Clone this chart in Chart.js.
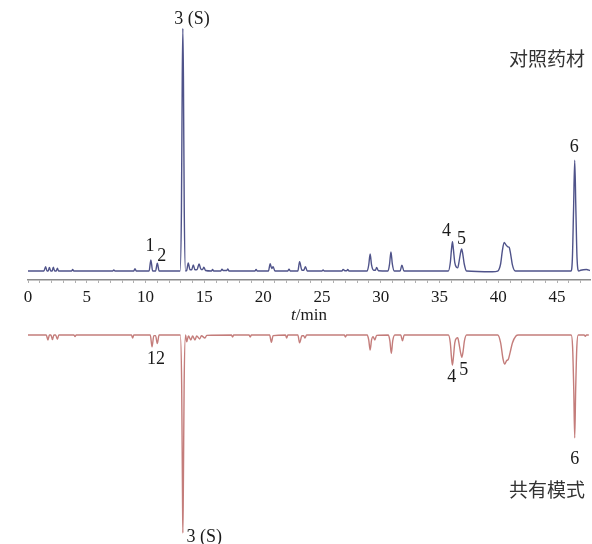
<!DOCTYPE html>
<html lang="zh">
<head>
<meta charset="UTF-8">
<title>HPLC fingerprint</title>
<script src="https://cdn.jsdelivr.net/npm/chart.js"></script>
<style>
    body { margin: 0; background: #fff; }
    #wrap { position: relative; width: 592px; height: 544px; }
    canvas { position: absolute; left: 0; }
    #topChart { top: 0; }
    #botChart { top: 325px; }
    .tag {
        position: absolute;
        left: 509px;
        font-family: 'Noto Sans CJK SC', sans-serif;
        font-size: 19px;
        line-height: 19px;
        color: #333;
    }
</style>
</head>
<body>
<div id="wrap">
    <canvas id="topChart" width="592" height="325"></canvas>
    <canvas id="botChart" width="592" height="219"></canvas>
    <div class="tag" style="top:48px">对照药材</div>
    <div class="tag" style="top:479px">共有模式</div>
</div>

<script>
// x ticks (min)
const xTickLabels = [0, 5, 10, 15, 20, 25, 30, 35, 40, 45];

// reference herb trace (top)
const topT = [0, 1.35, 1.5, 1.62, 1.72, 1.82, 1.93, 2.05, 2.15, 2.27, 2.4, 2.5, 2.6,
    3.7, 3.8, 3.9, 7.2, 7.3, 7.4, 9.0, 9.1, 9.2,
    10.3, 10.45, 10.6, 10.85, 11.0, 11.15,
    12.93, 13.05, 13.12, 13.17, 13.22, 13.29, 13.4,
    13.5, 13.63, 13.78, 13.92, 14.06, 14.2, 14.38, 14.55, 14.72, 14.85, 14.95, 15.1,
    15.6, 15.7, 15.8, 16.4, 16.5, 16.6, 16.9, 17.0, 17.1, 19.3, 19.4, 19.5,
    20.45, 20.6, 20.73, 20.85, 21.0, 22.1, 22.2, 22.3,
    22.95, 23.1, 23.3, 23.45, 23.6, 23.75, 25.0, 25.1, 25.2,
    26.7, 26.8, 26.95, 27.1, 27.2, 27.3,
    28.85, 28.98, 29.1, 29.22, 29.4, 29.55, 29.65, 29.8,
    30.62, 30.75, 30.87, 30.99, 31.15, 31.65, 31.8, 31.98,
    35.75, 35.92, 36.02, 36.1, 36.18, 36.3, 36.45, 36.55, 36.65, 36.77, 36.88, 36.98, 37.1, 37.3,
    39.5, 39.95, 40.2, 40.35, 40.5, 40.65, 40.8, 40.92, 41.05, 41.2, 41.45,
    46.18, 46.3, 46.4, 46.5, 46.6, 46.7, 46.85, 47.0, 47.5, 47.8];
const topV = [0, 0, 1.8, 0, 0, 1.5, 0, 0, 1.6, 0, 0, 1.2, 0,
    0, 0.6, 0, 0, 0.4, 0, 0, 1.0, 0,
    0, 4.6, 0, 0, 3.2, 0,
    0, 25, 80, 100, 80, 25, 0,
    0.3, 3.3, 0.5, 0.5, 2.5, 0.5, 0.6, 2.9, 0.6, 0.6, 1.6, 0.2,
    0, 0.6, 0, 0, 0.8, 0.2, 0.2, 0.9, 0, 0, 0.7, 0,
    0, 3.0, 1.0, 1.8, 0, 0, 0.8, 0,
    0, 3.8, 0.3, 0.3, 1.8, 0, 0, 0.4, 0,
    0, 0.7, 0.1, 0.1, 0.7, 0,
    0, 2.5, 7.0, 2.5, 0.3, 0.3, 1.5, 0.1,
    0, 2.8, 7.9, 2.8, 0, 0, 2.4, 0,
    0, 3.5, 9.0, 12.1, 9.0, 3.5, 1.5, 1.3, 3.5, 7.0, 9.1, 7.0, 3.0, 0,
    -0.3, 0, 3.0, 8.5, 11.8, 10.8, 10.0, 9.8, 7.0, 2.5, 0,
    0, 5, 25, 45.7, 25, 5, 0, 0.3, 0.6, 0.2];

// common pattern trace (bottom, drawn downward)
const botT = [0, 1.55, 1.7, 1.82, 1.95, 2.08, 2.2, 2.35, 2.5, 2.62,
    3.9, 4.0, 4.1, 8.8, 8.9, 9.0,
    10.4, 10.55, 10.7, 10.85, 11.0, 11.15,
    12.95, 13.07, 13.14, 13.17, 13.21, 13.28, 13.4,
    13.5, 13.65, 13.85, 14.0, 14.2, 14.35, 14.6, 14.75, 15.05, 15.2,
    17.3, 17.4, 17.5, 18.8, 18.9, 19.0,
    20.55, 20.7, 20.85, 21.9, 22.0, 22.1,
    22.95, 23.1, 23.3, 23.45, 23.55, 23.7, 26.9, 27.0, 27.1,
    28.85, 28.98, 29.1, 29.22, 29.35, 29.5, 29.65,
    30.65, 30.78, 30.9, 31.02, 31.2, 31.7, 31.85, 32.0,
    35.75, 35.92, 36.02, 36.1, 36.18, 36.3, 36.45, 36.55, 36.65, 36.78, 36.9, 37.0, 37.12, 37.3,
    39.95, 40.2, 40.4, 40.55, 40.7, 40.85, 41.0, 41.2, 41.5, 41.7,
    46.2, 46.32, 46.42, 46.5, 46.58, 46.68, 46.8, 47.3, 47.4, 47.5, 47.7];
const botV = [0, 0, 2.5, 0, 0, 2.3, 0, 0, 2.2, 0,
    0, 0.8, 0, 0, 1.5, 0,
    0, 6.0, 0.3, 0.3, 4.3, 0,
    0, 25, 80, 100, 80, 25, 0,
    3.4, 0.5, 2.5, 0.5, 2.5, 0.5, 2.0, 0.4, 1.5, 0.2,
    0, 1.0, 0, 0, 1.0, 0,
    0, 3.7, 0.3, 0, 1.5, 0,
    0, 4.0, 0.4, 0.4, 1.5, 0, 0, 1.0, 0,
    0, 2.5, 7.6, 2.5, 0.8, 2.5, 0.2,
    0, 3.0, 9.3, 3.0, 0, 0, 2.9, 0,
    0, 4.0, 11.5, 15.2, 11.5, 4.0, 1.6, 1.4, 4.0, 8.5, 11.3, 8.5, 3.0, 0,
    0, 4.0, 12.0, 14.7, 13.0, 12.3, 9.0, 4.0, 0.5, 0,
    0, 6, 28, 52, 28, 6, 0, 0, 0.6, 0, 0];

// peak labels
const topLabels = ['1', '2', '3 (S)', '4', '5', '6'];
const topLabelT = [10.37, 11.37, 13.95, 35.6, 36.88, 46.45];
const topLabelV = [10.1, 6.2, 103.8, 16.2, 13.0, 51.2];
const botLabels = ['12', '3 (S)', '4', '5', '6'];
const botLabelT = [10.88, 15.0, 36.05, 37.07, 46.5];
const botLabelV = [12.1, 102.3, 21.2, 17.7, 62.6];

const toPoints = (ts, vs) => ts.map((t, i) => ({ x: t, y: vs[i] }));

const serif = '"Liberation Serif", "Times New Roman", serif';

const peakLabels = {
    id: 'peakLabels',
    afterDatasetsDraw(chart, args, opts) {
        const ctx = chart.ctx;
        const xs = chart.scales.x, ys = chart.scales.y;
        ctx.save();
        ctx.font = '18px ' + serif;
        ctx.fillStyle = '#1a1a1a';
        ctx.textAlign = 'center';
        ctx.textBaseline = 'middle';
        opts.texts.forEach((s, i) => {
            ctx.fillText(s, xs.getPixelForValue(opts.t[i]), ys.getPixelForValue(opts.v[i]));
        });
        if (opts.axisTitle) {
            // t/min with italic t
            const a = chart.chartArea;
            const cx = (a.left + a.right) / 2;
            const yy = opts.axisTitleY;
            ctx.font = 'italic 17px ' + serif;
            const w1 = ctx.measureText('t').width;
            ctx.font = '17px ' + serif;
            const w2 = ctx.measureText('/min').width;
            const x0 = cx - (w1 + w2) / 2;
            ctx.textAlign = 'left';
            ctx.font = 'italic 17px ' + serif;
            ctx.fillText('t', x0, yy);
            ctx.font = '17px ' + serif;
            ctx.fillText('/min', x0 + w1, yy);
        }
        ctx.restore();
    }
};

const xMax = 47.8;

new Chart(document.getElementById('topChart'), {
    type: 'line',
    data: {
        datasets: [{
            data: toPoints(topT, topV),
            borderColor: '#4f538a',
            borderWidth: 1.4,
            pointRadius: 0,
            cubicInterpolationMode: 'monotone',
            clip: false
        }]
    },
    options: {
        responsive: false,
        animation: false,
        devicePixelRatio: 1,
        layout: { padding: { left: 28, right: 2, top: 26, bottom: 0 } },
        plugins: {
            legend: { display: false },
            tooltip: { enabled: false },
            peakLabels: { texts: topLabels, t: topLabelT, v: topLabelV, axisTitle: true, axisTitleY: 316 }
        },
        scales: {
            x: {
                type: 'linear',
                min: 0,
                max: xMax,
                afterFit: (s) => { s.height = 45; },
                border: { display: true, color: '#8c8c8c', width: 1.6 },
                grid: { drawOnChartArea: false, drawTicks: true, tickLength: 3, color: '#b0b0b0' },
                ticks: {
                    stepSize: 1,
                    autoSkip: false,
                    includeBounds: false,
                    maxRotation: 0,
                    padding: 4,
                    color: '#1a1a1a',
                    font: { family: serif, size: 17 },
                    callback: (v) => xTickLabels.includes(v) ? String(v) : ''
                }
            },
            y: {
                display: false,
                min: -3.7,
                max: 101
            }
        }
    },
    plugins: [peakLabels]
});

new Chart(document.getElementById('botChart'), {
    type: 'line',
    data: {
        datasets: [{
            data: toPoints(botT, botV),
            borderColor: '#c47d7b',
            borderWidth: 1.4,
            pointRadius: 0,
            cubicInterpolationMode: 'monotone',
            clip: false
        }]
    },
    options: {
        responsive: false,
        animation: false,
        devicePixelRatio: 1,
        layout: { padding: { left: 28, right: 2, top: 0, bottom: 0 } },
        plugins: {
            legend: { display: false },
            tooltip: { enabled: false },
            peakLabels: { texts: botLabels, t: botLabelT, v: botLabelV }
        },
        scales: {
            x: { type: 'linear', display: false, min: 0, max: xMax },
            y: { display: false, reverse: true, min: -5.05, max: 105.55 }
        }
    },
    plugins: [peakLabels]
});
</script>
</body>
</html>
